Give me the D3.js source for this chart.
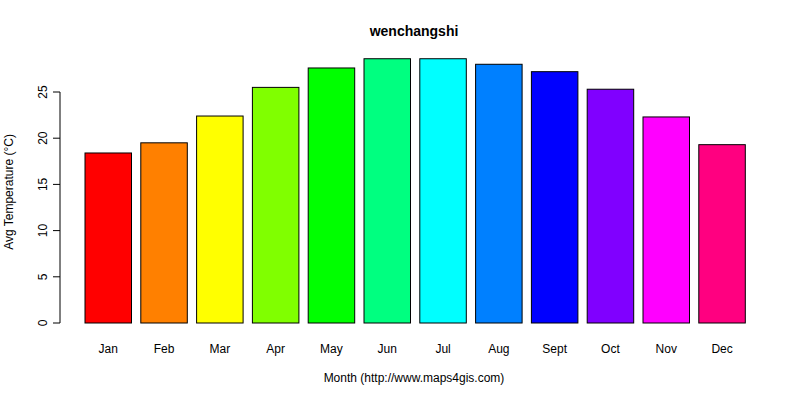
<!DOCTYPE html>
<html><head><meta charset="utf-8">
<script src="https://cdn.jsdelivr.net/npm/d3@7"></script>
<style>body{margin:0;background:#fff}text{font-family:"Liberation Sans",Arial,sans-serif}</style>
</head><body><svg id="c" width="800" height="400"></svg>
<script>
// DATA
const months = ["Jan","Feb","Mar","Apr","May","Jun","Jul","Aug","Sept","Oct","Nov","Dec"];
const temps = [18.4, 19.5, 22.4, 25.5, 27.6, 28.6, 28.6, 28.0, 27.2, 25.3, 22.3, 19.3];
const colors = ["#FF0000","#FF8000","#FFFF00","#80FF00","#00FF00","#00FF80","#00FFFF","#0080FF","#0000FF","#8000FF","#FF00FF","#FF0080"];
const yTicks = [0, 5, 10, 15, 20, 25];

const svg = d3.select("#c");
const x = d3.scaleLinear().domain([0, 12]).range([85, 754.6]);
const barW = x(5/6) - x(0);
const y = d3.scaleLinear().domain([0, 25]).range([323, 92]);

svg.selectAll("rect.bar").data(temps).join("rect")
  .attr("x", (d, i) => x(i)).attr("width", barW)
  .attr("y", d => y(d)).attr("height", d => y(0) - y(d))
  .attr("fill", (d, i) => colors[i]).attr("stroke", "#000").attr("stroke-width", 1);

svg.selectAll("text.m").data(months).join("text")
  .attr("x", (d, i) => x(i) + barW / 2).attr("y", 353)
  .attr("text-anchor", "middle").attr("font-size", 12).text(d => d);

// y axis
const ax = svg.append("g").attr("transform", "translate(60,0)");
ax.append("line").attr("x1", 0).attr("x2", 0).attr("y1", y(0)).attr("y2", y(25)).attr("stroke", "#000");
yTicks.forEach(t => {
  ax.append("line").attr("x1", 0).attr("x2", -7).attr("y1", y(t)).attr("y2", y(t)).attr("stroke", "#000");
  ax.append("text").attr("transform", `translate(-13,${y(t)}) rotate(-90)`)
    .attr("text-anchor", "middle").attr("font-size", 12).text(t);
});

svg.append("text").attr("x", 414).attr("y", 36).attr("text-anchor", "middle")
  .attr("font-size", 14).attr("font-weight", "bold").text("wenchangshi");
svg.append("text").attr("x", 414).attr("y", 382).attr("text-anchor", "middle")
  .attr("font-size", 12).text("Month (http://www.maps4gis.com)");
svg.append("text").attr("transform", "translate(13,192) rotate(-90)").attr("text-anchor", "middle")
  .attr("font-size", 12).text("Avg Temperature (°C)");
</script></body></html>
